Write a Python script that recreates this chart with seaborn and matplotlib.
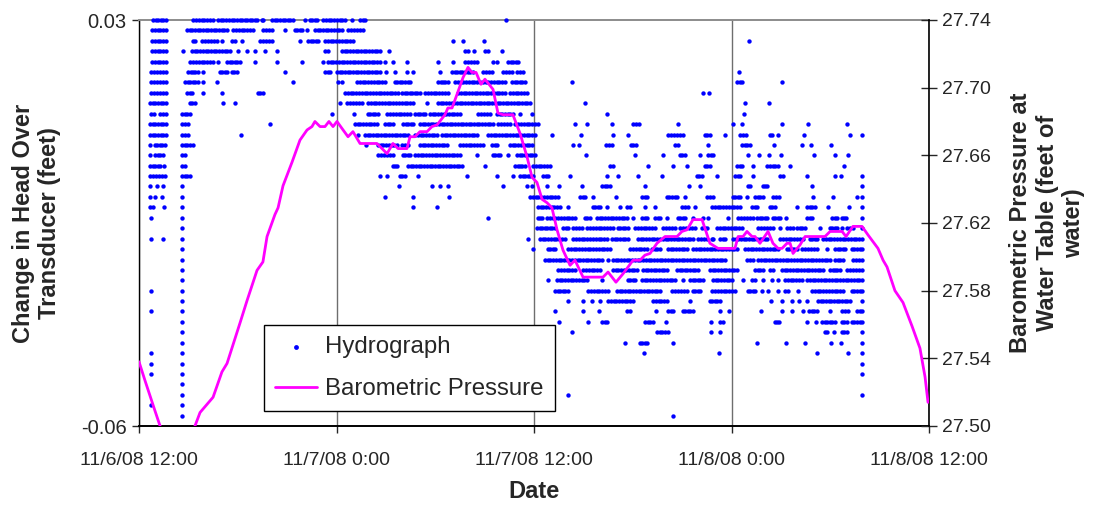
import numpy as np
import pandas as pd
import matplotlib
matplotlib.use("Agg")
import matplotlib.pyplot as plt
import seaborn as sns

# ---------------- data ----------------
# time axis: hours after 11/6/08 12:00
tick_hours = [0, 12, 24, 36, 48]
tick_labels = ["11/6/08 12:00", "11/7/08 0:00", "11/7/08 12:00", "11/8/08 0:00", "11/8/08 12:00"]

# hydrograph: quantised transducer levels (ft) and, for each level, the time
# windows (hours) in which readings at that level appear ("a-b" = run of 10-min readings)
hydro_levels = [0.0300, 0.0277, 0.0254, 0.0231, 0.0208, 0.0185, 0.0162, 0.0138, 0.0115, 0.0092,
                0.0069, 0.0046, 0.0023, 0.0000, -0.0023, -0.0046, -0.0069, -0.0092, -0.0115, -0.0138,
                -0.0162, -0.0185, -0.0208, -0.0231, -0.0254, -0.0277, -0.0300, -0.0323, -0.0346, -0.0369,
                -0.0392, -0.0415, -0.0438, -0.0462, -0.0485, -0.0508, -0.0531, -0.0554, -0.0577]
hydro_runs = [
    "0.85-1.64 3.28-4.50 4.80-5.95 6.14-6.56 6.74-7.17 7.47-7.53 8.08-9.36 10.09 10.39-10.82 11.18-12.52 12.94 13.43-13.73 22.30",
    "0.79-1.64 2.92-5.35 5.71-6.93 7.53-8.08 8.87 9.48-9.90 10.21 10.69-12.33 12.70-13.61",
    "0.79-1.64 3.28-3.40 3.83-4.74 5.04 5.65-5.83 6.26 7.35-8.08 9.78 10.27-10.88 11.30-13.00 19.08 19.69 20.96 37.06",
    "0.79-1.64 2.67 3.22-5.53 6.02 6.56 7.05 7.66 8.38 11.30-11.48 12.33-14.64 15.19 19.81-19.99 20.35 21.02-21.21 22.06",
    "0.79-1.64 3.10-4.50 4.80 5.35-6.14 7.05 8.38 9.90 11.18 11.48-14.64 14.95 15.43 16.28 18.17 19.08 19.81-20.54 21.51-21.75 22.42-23.03",
    "0.73-1.64 2.98-3.58 3.89 4.92-5.35 5.65-5.95 8.87 11.30-11.61 12.03-14.64 15.01 15.55 16.28 16.65 18.29 19.02-20.29 20.90-21.45 22.12-22.66 22.97-23.33 36.46",
    "0.73-1.64 2.80-3.58 3.89 4.74 9.36 12.09-12.33 13.25-14.95 15.55-16.47 18.17-18.77 19.20-22.24 22.66-23.45 26.31 36.34-36.64 39.07",
    "0.73-1.64 2.92-3.22 3.89 5.04 7.23-7.53 12.52-15.74 15.98-17.07 17.38-18.77 19.38-22.24 22.54-23.57 34.27 34.63",
    "0.67-1.64 3.10-3.40 5.10 5.83 12.21 12.64-13.55 13.91-16.65 17.50 18.17-23.76 27.10 36.82 38.28",
    "0.73 0.91 1.28-1.64 2.61-3.10 11.73 13.06 13.91-14.52 15.07-16.47 16.77-17.38 17.68-19.50 20.60-21.33 21.75-22.72 23.15 23.88 28.44 36.76",
    "0.67-1.64 2.61-2.98 7.96 13.12-14.46 14.95-15.43 16.04-16.65 17.07-21.51 21.81-22.54 22.85-24.24 26.49 27.22 28.74 30.01-30.38 32.75 36.09 36.64 39.07 40.65 43.02",
    "0.67-1.64 2.61-2.98 6.20 13.31 13.73-16.34 16.77-18.11 18.41-20.54 21.21-24.06 25.09 26.86 28.80 29.71 32.14-33.05 34.39-34.69 35.61 36.52-36.88 38.34-38.46 38.83 40.41 43.20 43.93",
    "0.67 0.97-1.58 2.61-3.28 13.79 14.52-15.68 15.98-16.34 17.07-18.71 19.50-20.90 21.45-21.75 22.54-23.88 26.37 26.73 28.38-28.74 29.89-30.20 32.57-32.75 34.57 36.64-37.12 38.58 40.28 40.83 42.05",
    "0.67 0.97-1.46 2.61-2.80 14.52-15.43 16.04-16.47 16.77-19.50 20.54 21.51-21.93 22.42 22.97-24.06 27.16 30.14 31.84 32.87-33.17 34.09 34.57-34.88 37.00 37.67 38.28 39.01 41.01 42.29 43.08",
    "0.67-1.28 1.52 2.61-2.80 15.43-15.68 16.34-19.63 21.02 22.85-23.45 23.94-24.97 28.62-28.80 30.93 32.45 33.30 34.39-34.69 36.34-36.64 37.31 38.16-38.83 39.55 42.84",
    "0.67-1.58 2.61-3.10 14.64 15.07 15.86-16.16 16.95 19.93 21.75 22.72 23.15-23.94 24.55-24.85 26.19 28.44 29.10 30.32 31.78 33.90-34.21 35.12 36.21-36.52 37.31 38.95-39.13 40.59 42.29 42.65 43.93",
    "0.67 1.09 1.46 2.61 15.80 17.80 18.29 18.77 22.12 23.57 23.88 24.79 25.52 26.92 28.13-28.62 30.74 33.42 34.09 37.00-37.12 37.91-38.16 40.89 43.93",
    "0.67 0.97 1.40 2.61 14.95 16.65 18.84 23.76-25.46 26.80-27.10 27.58 28.98 30.56-30.87 32.08-32.69 33.17 34.51-34.88 36.09-36.52 36.94 37.43-37.91 38.52-38.89 40.95 42.17 43.63 43.93",
    "0.67-0.85 1.52 2.61 16.65 18.11 24.24-25.58 26.07 27.58-28.01 28.44 29.23 29.65-29.83 30.74 31.35 32.99-33.36 33.78 34.82-36.52 37.25-37.55 38.34-38.64 39.98 40.59-41.07 41.86 43.14 43.93",
    "0.73 2.61 21.21 24.24-24.49 24.79-26.49 27.10-27.40 27.83-29.65 30.01 30.56-30.87 31.35-31.66 32.08 32.75-33.17 33.66 34.27 34.57 35.79 36.40-37.31 37.55-38.16 38.52-38.95 39.31 40.59-40.89 42.11-42.41 42.71-42.96 43.93",
    "2.61 24.18-25.28 25.76-26.07 26.37-26.92 27.22-28.80 29.10-29.71 30.14-31.35 31.84-32.57 32.87-33.78 34.21-34.51 35.12-36.64 37.61-38.52 38.95 39.37-39.74 39.98-40.47 41.38 41.99-42.41 42.71 43.02-43.38 43.93",
    "0.73 1.46 2.61 23.64 24.36-25.70 25.88 26.37-28.44 28.74-29.71 30.32-31.47 31.66-33.66 33.96-34.51 34.82-34.88 35.30-35.61 36.09-37.55 37.73-38.16 38.95-40.34 40.77-41.19 41.56-43.93",
    "2.61 23.94 24.85-25.28 26.07-28.62 29.83-30.87 31.17-31.66 32.14-33.30 33.66-36.34 36.82-38.83 39.37-39.98 40.28-41.19 41.80 42.29-42.90 43.32-43.93",
    "2.61 24.67-28.13 28.50 28.80-33.30 33.48-35.61 36.94-37.31 37.61-41.99 42.29-42.78 43.38-43.93",
    "2.61 25.46-26.49 26.98-28.01 28.80-30.26 30.62-32.08 32.69-33.96 34.69-36.34 37.43-37.91 38.34-38.52 39.07-41.56 41.99-42.59 43.02-43.93",
    "2.61 24.85 25.40-27.22 28.13 29.71-30.14 30.56-32.57 33.05 33.48-34.27 34.88-36.03 36.70 37.25-37.43 37.91 38.46 38.83 39.25-40.28 40.59-43.93",
    "0.73 2.61 25.28-26.07 27.28-28.50 29.04-31.66 32.39-33.30 33.66-34.09 34.82-36.21 37.00-37.43 37.85 38.22 38.83 39.25-39.43 40.04 40.89-42.78 43.32-43.93",
    "2.61 26.07 26.98 27.52 28.01 28.50-30.01 31.23-32.08 33.48 34.69-35.30 38.40 39.07 39.68 40.10 40.59 41.26-43.20 43.93",
    "0.73 2.61 25.28 26.98 27.95 29.65-29.83 31.41 32.14-32.45 33.05-33.66 35.30 35.85 37.79 39.07 39.68 40.34 40.71-41.19 41.99 42.71-43.08 43.63-43.93",
    "2.61 25.52 27.28 28.13-28.44 30.74-31.23 32.02 34.76 35.30-35.48 38.64-38.89 40.59 41.13 41.50-42.29 42.71-43.02 43.32-43.93",
    "2.61 26.31 31.47-32.14 34.76 35.30 41.68-41.80 42.23 42.71-43.02 43.93",
    "2.61 29.53 30.44-30.87 32.45 37.55 39.31 40.47 42.05 42.65 43.93",
    "0.73 2.61 30.68 35.24 41.19 43.08 43.93",
    "0.73 2.61 43.93",
    "0.73 2.61 43.93",
    "2.61",
    "2.61 26.07 43.93",
    "0.73 2.61",
    "2.61 32.45",
]

# barometric pressure at water table (ft of water)
baro_hours = [0.00, 0.36, 0.97, 1.28, 1.80, 2.40, 3.00, 3.40, 3.71, 4.50, 5.04, 5.35, 6.14, 6.56, 7.17,
              7.53, 7.78, 8.26, 8.45, 8.75, 9.30, 9.78, 10.21, 10.51, 10.69, 11.00, 11.30, 11.54, 11.79,
              12.03, 12.40, 12.70, 13.00, 13.43, 14.46, 15.07, 15.43, 15.74, 16.28, 16.47, 16.77, 17.07,
              17.50, 17.80, 18.11, 18.59, 18.77, 19.02, 19.32, 19.69, 19.99, 20.23, 20.48, 20.78, 21.02,
              21.51, 21.81, 22.12, 22.72, 23.15, 23.58, 23.88, 24.18, 24.49, 24.79, 25.09, 25.40, 25.76,
              26.19, 26.49, 26.98, 28.19, 28.50, 28.98, 29.41, 30.02, 30.44, 30.74, 31.05, 31.47, 31.96,
              32.69, 32.99, 33.30, 33.66, 34.21, 34.69, 35.18, 36.21, 36.40, 36.70, 36.94, 37.25, 37.43,
              37.73, 38.22, 38.52, 38.83, 39.07, 39.37, 39.56, 39.74, 40.16, 40.47, 41.68, 41.99, 42.72,
              42.96, 43.38, 43.93, 44.29, 44.90, 45.21, 45.45, 45.93, 46.42, 46.97, 47.45, 47.76, 47.94]
baro_ft = [27.538, 27.527, 27.509, 27.500, 27.490, 27.486, 27.492, 27.500, 27.508, 27.517, 27.532, 27.537,
           27.561, 27.574, 27.592, 27.597, 27.612, 27.625, 27.629, 27.642, 27.656, 27.669, 27.675, 27.677,
           27.680, 27.677, 27.677, 27.680, 27.677, 27.680, 27.675, 27.671, 27.674, 27.667, 27.667, 27.661,
           27.667, 27.664, 27.664, 27.671, 27.671, 27.674, 27.674, 27.677, 27.678, 27.684, 27.688, 27.688,
           27.696, 27.706, 27.712, 27.709, 27.709, 27.702, 27.705, 27.699, 27.685, 27.684, 27.684, 27.673,
           27.659, 27.647, 27.644, 27.634, 27.632, 27.629, 27.616, 27.604, 27.595, 27.598, 27.588, 27.588,
           27.591, 27.585, 27.590, 27.598, 27.598, 27.601, 27.602, 27.608, 27.612, 27.612, 27.615, 27.616,
           27.622, 27.622, 27.608, 27.605, 27.605, 27.612, 27.612, 27.615, 27.612, 27.612, 27.608, 27.615,
           27.608, 27.605, 27.605, 27.608, 27.608, 27.602, 27.607, 27.612, 27.612, 27.615, 27.615, 27.612,
           27.618, 27.618, 27.613, 27.605, 27.598, 27.594, 27.580, 27.573, 27.559, 27.546, 27.529, 27.514]

# ---------------- build hydrograph table ----------------
rows = []
for level, runs in zip(hydro_levels, hydro_runs):
    for tok in runs.split():
        if "-" in tok:
            a, b = (float(v) for v in tok.split("-"))
            n = max(int(round((b - a) * 6)), 1)
            for i in range(n + 1):
                rows.append((a + (b - a) * i / n, level))
        else:
            rows.append((float(tok), level))
hydro = pd.DataFrame(rows, columns=["hours", "head"])
baro = pd.DataFrame({"hours": baro_hours, "pressure": baro_ft})

# ---------------- styling ----------------
sns.set_style("white")
plt.rcParams["font.family"] = ["Liberation Sans", "DejaVu Sans"]

fig = plt.figure(figsize=(10.94, 5.05), dpi=100)
ax = fig.add_axes([139 / 1094, 1 - 426 / 505, 790 / 1094, 406 / 505])
ax2 = ax.twinx()

sns.scatterplot(data=hydro, x="hours", y="head", ax=ax, color="#0000FF", s=10,
                linewidth=0, clip_on=False, legend=False, zorder=3)
sns.lineplot(data=baro, x="hours", y="pressure", ax=ax2, color="#FF00FF",
             linewidth=2.0, legend=False, zorder=4)

ax.set_xlim(0, 48)
ax.set_ylim(-0.06, 0.03)
ax2.set_ylim(27.50, 27.74)

ax.set_xticks(tick_hours)
ax.set_xticklabels(tick_labels)
ax.set_yticks([-0.06, 0.03])
ax.set_yticklabels(["-0.06", "0.03"])
ax2.set_yticks([27.50, 27.54, 27.58, 27.62, 27.66, 27.70, 27.74])
ax2.set_yticklabels(["27.50", "27.54", "27.58", "27.62", "27.66", "27.70", "27.74"])

ax.grid(axis="x", color="#6e6e6e", linewidth=1.0)
ax.grid(axis="y", visible=False)
ax2.grid(False)
ax.set_axisbelow(True)

for s in ["left", "bottom"]:
    ax.spines[s].set_color("black")
    ax.spines[s].set_linewidth(1.0)
ax.spines["bottom"].set_linewidth(1.4)
ax.spines["top"].set_color("#8c8c8c")
ax.spines["top"].set_linewidth(1.4)
ax.spines["right"].set_visible(False)
ax2.spines["left"].set_visible(False)
ax2.spines["bottom"].set_visible(False)
ax2.spines["top"].set_visible(False)
ax2.spines["right"].set_color("black")
ax2.spines["right"].set_linewidth(1.2)

ax.tick_params(axis="y", direction="out", length=5, width=1, labelsize=14.5, pad=4, left=True)
ax.tick_params(axis="x", direction="out", length=5, width=1, labelsize=14, pad=14, bottom=True)
ax2.tick_params(axis="y", direction="inout", length=11, width=1, labelsize=14, pad=4, right=True)

ax.set_xlabel("Date", fontsize=17, fontweight="bold", labelpad=8)
ax.set_ylabel("Change in Head Over\nTransducer (feet)", fontsize=17, fontweight="bold", labelpad=14)
ax2.set_ylabel("Barometric Pressure at\nWater Table (feet of\nwater)", fontsize=17,
               fontweight="bold", labelpad=13)

handles = [ax.collections[0], ax2.lines[0]]
leg = ax2.legend(handles, ["Hydrograph", "Barometric Pressure"],
                 loc="upper left", bbox_to_anchor=(264 / 1094, 1 - 325 / 505),
                 bbox_transform=fig.transFigure, borderaxespad=0, fontsize=17.3,
                 frameon=True, fancybox=False, framealpha=1, edgecolor="black",
                 handlelength=1.75, handletextpad=0.35, borderpad=0.45, labelspacing=0.85,
                 markerscale=1.1)
leg.get_frame().set_linewidth(1.0)

fig.savefig("out.png", dpi=100)
